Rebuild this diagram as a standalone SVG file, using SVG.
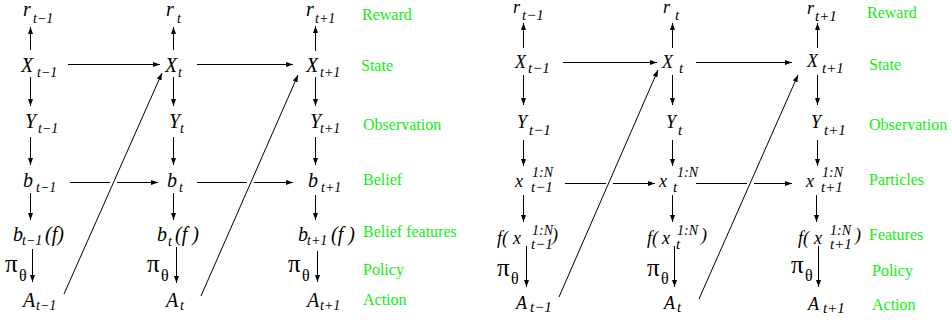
<svg xmlns="http://www.w3.org/2000/svg" width="952" height="320" viewBox="0 0 952 320">
<style>
text { font-family: "Liberation Serif", serif; fill: #000; }
.m { font-family: "Liberation Serif", serif; font-style: italic; font-size: 20px; }
.s { font-family: "Liberation Serif", serif; font-style: italic; font-size: 14px; }
.mr { font-family: "Liberation Serif", serif; font-style: italic; font-size: 18px; }
.sr { font-family: "Liberation Serif", serif; font-style: italic; font-size: 15px; }
.sp { font-family: "Liberation Serif", serif; font-style: italic; font-size: 14px; }
.pi { font-family: "Liberation Serif", serif; font-style: normal; font-size: 25px; }
.th { font-family: "Liberation Serif", serif; font-style: normal; font-size: 16px; }
.g { font-family: "Liberation Serif", serif; font-size: 16px; fill: #11ee11; }
.c { fill: none; stroke: #000; stroke-width: 1; marker-end: url(#ah); }
</style>
<defs>
<marker id="ah" markerUnits="userSpaceOnUse" markerWidth="8" markerHeight="6" refX="7" refY="2.5" orient="auto">
<path d="M0,0 L7,2.5 L0,5 Z" fill="#000"/>
</marker>
</defs>
<rect width="952" height="320" fill="#fff"/>

<g id="connectors">
<!-- left panel -->
<path class="c" d="M30.5 50 V27"/>
<path class="c" d="M173.5 50 V27"/>
<path class="c" d="M315.5 51 V26"/>
<path class="c" d="M68 64.5 H160"/>
<path class="c" d="M197 64.5 H293"/>
<path class="c" d="M30.5 77 V106"/>
<path class="c" d="M173.5 77 V106"/>
<path class="c" d="M315.5 77 V106"/>
<path class="c" d="M30.5 137 V165"/>
<path class="c" d="M173.5 137 V165"/>
<path class="c" d="M315.5 137 V165"/>
<path class="c" d="M70 182.5 H110 M117 182.5 H158"/>
<path class="c" d="M197 182.5 H247 M254 182.5 H293"/>
<path class="c" d="M30.5 193 V220"/>
<path class="c" d="M173.5 193 V220"/>
<path class="c" d="M315.5 195 V220"/>
<path class="c" d="M32.5 249 V282"/>
<path class="c" d="M176.5 247 V283"/>
<path class="c" d="M317.5 251 V282"/>
<path class="c" d="M64 294 L162 73"/>
<path class="c" d="M201 296 L298 75"/>
<!-- right panel -->
<path class="c" d="M523.5 48 V23"/>
<path class="c" d="M672.5 48 V23"/>
<path class="c" d="M817.5 48 V23"/>
<path class="c" d="M563 62.5 H657"/>
<path class="c" d="M696 62.5 H792"/>
<path class="c" d="M523.5 75 V105"/>
<path class="c" d="M672.5 75 V105"/>
<path class="c" d="M817.5 75 V105"/>
<path class="c" d="M523.5 140 V166"/>
<path class="c" d="M672.5 140 V166"/>
<path class="c" d="M817.5 140 V166"/>
<path class="c" d="M565 183.5 H606 M613 183.5 H655"/>
<path class="c" d="M696 183.5 H747 M754 183.5 H792"/>
<path class="c" d="M523.5 195 V222"/>
<path class="c" d="M672.5 195 V222"/>
<path class="c" d="M816.5 195 V222"/>
<path class="c" d="M526.5 246 V287"/>
<path class="c" d="M674.5 246 V287"/>
<path class="c" d="M818.5 246 V287"/>
<path class="c" d="M559 297 L658 70"/>
<path class="c" d="M699 299 L798 75"/>
</g>

<!-- left panel nodes -->
<g id="r_tm1_L"><text><tspan class="m" x="23" y="16">r</tspan><tspan class="s" x="33" y="23">t−1</tspan></text></g>
<g id="r_t_L"><text><tspan class="m" x="166" y="16">r</tspan><tspan class="s" x="177" y="23">t</tspan></text></g>
<g id="r_tp1_L"><text><tspan class="m" x="306" y="16">r</tspan><tspan class="s" x="315" y="23">t+1</tspan></text></g>
<g id="X_tm1_L"><text><tspan class="m" x="21" y="72">X</tspan><tspan class="s" x="37" y="77">t−1</tspan></text></g>
<g id="X_t_L"><text><tspan class="m" x="165" y="72">X</tspan><tspan class="s" x="178" y="77">t</tspan></text></g>
<g id="X_tp1_L"><text><tspan class="m" x="306" y="72">X</tspan><tspan class="s" x="320" y="77">t+1</tspan></text></g>
<g id="Y_tm1_L"><text><tspan class="m" x="25" y="128">Y</tspan><tspan class="s" x="38" y="133">t−1</tspan></text></g>
<g id="Y_t_L"><text><tspan class="m" x="169" y="128">Y</tspan><tspan class="s" x="180" y="133">t</tspan></text></g>
<g id="Y_tp1_L"><text><tspan class="m" x="310" y="128">Y</tspan><tspan class="s" x="320" y="133">t+1</tspan></text></g>
<g id="b_tm1_L"><text><tspan class="m" x="23" y="187">b</tspan><tspan class="s" x="36" y="192">t−1</tspan></text></g>
<g id="b_t_L"><text><tspan class="m" x="167" y="187">b</tspan><tspan class="s" x="179" y="192">t</tspan></text></g>
<g id="b_tp1_L"><text><tspan class="m" x="308" y="187">b</tspan><tspan class="s" x="321" y="192">t+1</tspan></text></g>
<g id="bf_tm1_L"><text><tspan class="m" x="13" y="241">b</tspan><tspan class="s" x="22" y="245">t−1</tspan><tspan class="m" x="45" y="241">(f)</tspan></text></g>
<g id="bf_t_L"><text><tspan class="m" x="157" y="241">b</tspan><tspan class="s" x="168" y="246">t</tspan><tspan class="m" x="175" y="241">(f )</tspan></text></g>
<g id="bf_tp1_L"><text><tspan class="m" x="298" y="241">b</tspan><tspan class="s" x="307" y="245">t+1</tspan><tspan class="m" x="331" y="241">(f )</tspan></text></g>
<g id="pi_tm1_L"><text><tspan class="pi" x="5" y="272">π</tspan><tspan class="th" x="19" y="281">θ</tspan></text></g>
<g id="pi_t_L"><text><tspan class="pi" x="147" y="272">π</tspan><tspan class="th" x="161" y="281">θ</tspan></text></g>
<g id="pi_tp1_L"><text><tspan class="pi" x="288" y="272">π</tspan><tspan class="th" x="302" y="281">θ</tspan></text></g>
<g id="A_tm1_L"><text><tspan class="m" x="23" y="307">A</tspan><tspan class="s" x="36" y="310">t−1</tspan></text></g>
<g id="A_t_L"><text><tspan class="m" x="166" y="307">A</tspan><tspan class="s" x="180" y="310">t</tspan></text></g>
<g id="A_tp1_L"><text><tspan class="m" x="307" y="307">A</tspan><tspan class="s" x="320" y="310">t+1</tspan></text></g>

<g id="labels_L">
<text class="g" x="362" y="20">Reward</text>
<text class="g" x="361" y="71">State</text>
<text class="g" x="363" y="130">Observation</text>
<text class="g" x="363" y="185">Belief</text>
<text class="g" x="363" y="237">Belief features</text>
<text class="g" x="363" y="275">Policy</text>
<text class="g" x="363" y="305">Action</text>
</g>

<!-- right panel nodes -->
<g id="r_tm1_R"><text><tspan class="mr" x="513" y="13">r</tspan><tspan class="sr" x="522" y="20">t−1</tspan></text></g>
<g id="r_t_R"><text><tspan class="mr" x="663" y="13">r</tspan><tspan class="sr" x="675" y="20">t</tspan></text></g>
<g id="r_tp1_R"><text><tspan class="mr" x="807" y="14">r</tspan><tspan class="sr" x="815" y="21">t+1</tspan></text></g>
<g id="X_tm1_R"><text><tspan class="mr" x="515" y="68">X</tspan><tspan class="sr" x="528" y="73">t−1</tspan></text></g>
<g id="X_t_R"><text><tspan class="mr" x="662" y="68">X</tspan><tspan class="sr" x="679" y="73">t</tspan></text></g>
<g id="X_tp1_R"><text><tspan class="mr" x="807" y="67">X</tspan><tspan class="sr" x="822" y="73">t+1</tspan></text></g>
<g id="Y_tm1_R"><text><tspan class="mr" x="517" y="128">Y</tspan><tspan class="sr" x="529" y="135">t−1</tspan></text></g>
<g id="Y_t_R"><text><tspan class="mr" x="666" y="128">Y</tspan><tspan class="sr" x="678" y="135">t</tspan></text></g>
<g id="Y_tp1_R"><text><tspan class="mr" x="811" y="128">Y</tspan><tspan class="sr" x="824" y="135">t+1</tspan></text></g>
<g id="x_tm1_R"><text><tspan class="mr" x="515" y="187">x</tspan><tspan class="sp" x="532" y="177">1:N</tspan><tspan class="sr" x="531" y="192">t−1</tspan></text></g>
<g id="x_t_R"><text><tspan class="mr" x="659" y="187">x</tspan><tspan class="sp" x="677" y="177">1:N</tspan><tspan class="sr" x="673" y="192">t</tspan></text></g>
<g id="x_tp1_R"><text><tspan class="mr" x="806" y="187">x</tspan><tspan class="sp" x="822" y="177">1:N</tspan><tspan class="sr" x="821" y="192">t+1</tspan></text></g>
<g id="f_tm1_R"><text><tspan class="mr" x="497" y="244">f(</tspan><tspan class="mr" x="513" y="244">x</tspan><tspan class="sp" x="532" y="235">1:N</tspan><tspan class="sr" x="531" y="249">t−1</tspan><tspan class="mr" x="552" y="241">)</tspan></text></g>
<g id="f_t_R"><text><tspan class="mr" x="647" y="244">f(</tspan><tspan class="mr" x="662" y="244">x</tspan><tspan class="sp" x="677" y="235">1:N</tspan><tspan class="sr" x="676" y="249">t</tspan><tspan class="mr" x="701" y="241">)</tspan></text></g>
<g id="f_tp1_R"><text><tspan class="mr" x="798" y="244">f(</tspan><tspan class="mr" x="814" y="244">x</tspan><tspan class="sp" x="830" y="235">1:N</tspan><tspan class="sr" x="830" y="249">t+1</tspan><tspan class="mr" x="855" y="241">)</tspan></text></g>
<g id="pi_tm1_R"><text><tspan class="pi" x="497" y="276">π</tspan><tspan class="th" x="511" y="284">θ</tspan></text></g>
<g id="pi_t_R"><text><tspan class="pi" x="647" y="276">π</tspan><tspan class="th" x="661" y="284">θ</tspan></text></g>
<g id="pi_tp1_R"><text><tspan class="pi" x="791" y="273">π</tspan><tspan class="th" x="805" y="281">θ</tspan></text></g>
<g id="A_tm1_R"><text><tspan class="mr" x="516" y="309">A</tspan><tspan class="sr" x="530" y="312">t−1</tspan></text></g>
<g id="A_t_R"><text><tspan class="mr" x="664" y="309">A</tspan><tspan class="sr" x="677" y="312">t</tspan></text></g>
<g id="A_tp1_R"><text><tspan class="mr" x="808" y="310">A</tspan><tspan class="sr" x="823" y="313">t+1</tspan></text></g>

<g id="labels_R">
<text class="g" x="867" y="18">Reward</text>
<text class="g" x="869" y="70">State</text>
<text class="g" x="869" y="130">Observation</text>
<text class="g" x="869" y="185">Particles</text>
<text class="g" x="869" y="240">Features</text>
<text class="g" x="872" y="276">Policy</text>
<text class="g" x="872" y="310">Action</text>
</g>
</svg>
